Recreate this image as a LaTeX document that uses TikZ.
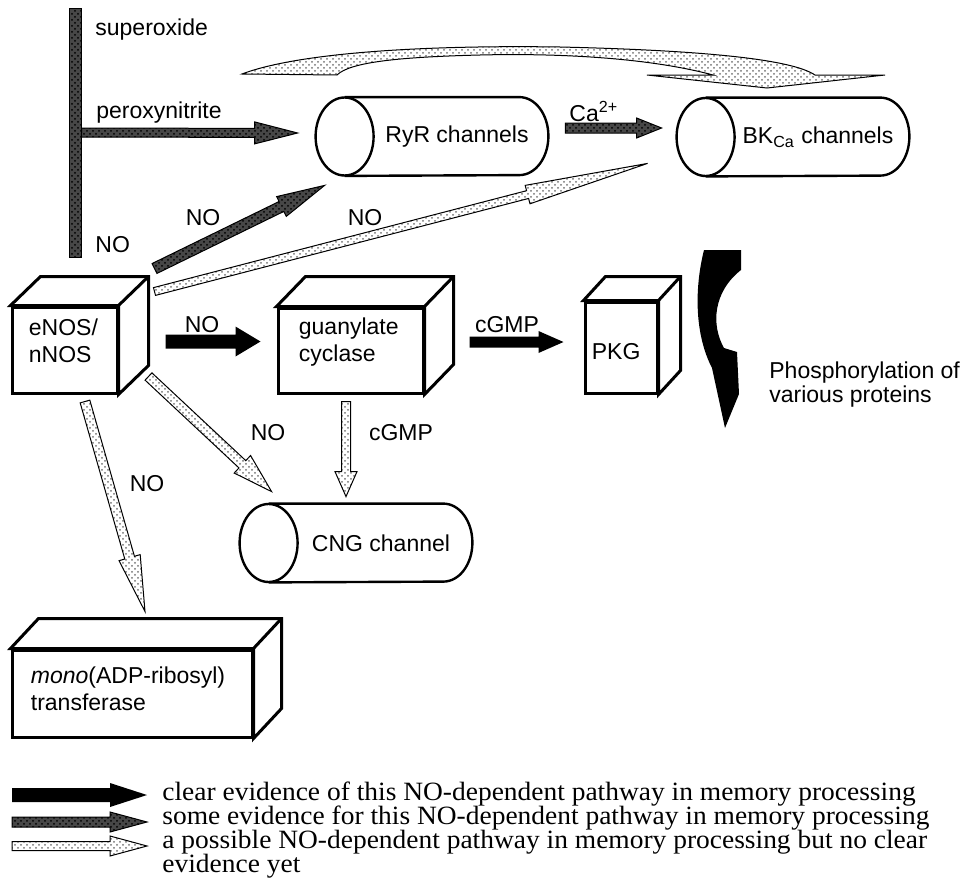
\documentclass[tikz,border=0pt]{standalone}
\usepackage{fontspec}
\setmainfont{Liberation Sans}
\newfontfamily\legendfont[FakeStretch=1.04]{Liberation Serif}
\usetikzlibrary{calc, patterns, positioning}

\tikzset{
  lab/.style={font=\fontsize{11.5}{13.5}\selectfont, inner sep=0pt, align=left},
  cube/.style={draw, line width=1.5pt, fill=white, inner sep=0pt},
  cubeline/.style={line width=1.5pt, line join=miter},
  chan/.style={inner sep=0pt, minimum width=116pt, minimum height=39pt},
  chanline/.style={line width=1.2pt},
  evclear/.style={fill=black},
  evsome/.style={draw=black, line width=0.5pt, preaction={fill=black!72}, pattern=crosshatch dots, pattern color=black},
  evmaybe/.style={draw=black, line width=0.5pt, pattern=crosshatch dots, pattern color=black!55},
  legtext/.style={font=\legendfont\fontsize{13.2}{12}\selectfont, inner sep=0pt, anchor=base west},
}

% fat arrow: style, from, to, shaft half width, head half width, head length
\newcommand{\fatarrow}[6][evclear]{%
  \path (#2) coordinate (fa-s) (#3) coordinate (fa-e);
  \path ($(fa-e)!#6!(fa-s)$) coordinate (fa-h);
  \path[#1] ($(fa-s)!#4!-90:(fa-e)$) -- ($(fa-h)!#4!-90:(fa-e)$) -- ($(fa-h)!#5!-90:(fa-e)$) -- (fa-e)
    -- ($(fa-h)!#5!90:(fa-e)$) -- ($(fa-h)!#4!90:(fa-e)$) -- ($(fa-s)!#4!90:(fa-e)$) -- cycle;
}
% box seen in perspective: name, centre, width, height, back offset, text offset, text
\newcommand{\cube}[7]{%
  \node[cube, minimum width=#3, minimum height=#4] (#1) at (#2) {};
  \draw[cubeline, fill=white] (#1.north west) -- ++(#5) -- ([shift={(#5)}]#1.north east)
    -- ([shift={(#5)}]#1.south east) -- (#1.south east) -- (#1.north east) -- cycle;
  \draw[cubeline] (#1.north east) -- ++(#5);
  \node[lab, anchor=north west] (#1-t) at ([shift={#6}]#1.north west) {#7};
}
% channel drawn as a lying cylinder
\newcommand{\chan}[3]{%
  \node[chan] (#1) at (#2) {};
  \draw[chanline] ([xshift=14.5pt]#1.north west) -- ([xshift=-14.5pt]#1.north east)
    arc[start angle=90, end angle=-90, x radius=14.5pt, y radius=19.5pt] -- ([xshift=14.5pt]#1.south west);
  \draw[chanline] ([xshift=14.5pt]#1.west) ellipse [x radius=14.5pt, y radius=19.5pt];
  \node[lab] (#1-t) at ([xshift=12.5pt]#1.center) {#3};
}

\begin{document}
\begin{tikzpicture}[x=0.5pt, y=-0.5pt]
  \useasboundingbox (0,0) rectangle (965,884);

  % boxes and channels
  \cube{enos}{64.5,350}{52.5pt}{43pt}{30,-29}{(9pt,-6.5pt)}{eNOS/\\nNOS}
  \cube{gc}{350.5,350.5}{72.5pt}{42.5pt}{29,-30}{(11pt,-5.5pt)}{guanylate\\cyclase}
  \cube{pkg}{621,347.5}{36pt}{45.5pt}{22,-24}{(4pt,-21.5pt)}{PKG}
  \cube{mono}{132,693.5}{120pt}{43.5pt}{28,-30}{(10pt,-9pt)}{\textit{mono}(ADP-ribosyl)\\transferase}
  \chan{ryr}{432,136.5}{RyR channels}
  \chan{bk}{793,137}{BK\textsubscript{Ca} channels}
  \chan{cng}{356,543}{CNG channel}

  % superoxide bar
  \node[evsome, minimum width=6pt, minimum height=124.5pt, inner sep=0pt] (bar) at (75,132.5) {};
  \node[lab, anchor=west] (sup) at (95,30) {superoxide};
  \node[lab, anchor=west] (perox) at (96,113) {peroxynitrite};
  \node[lab, anchor=west] (barno) at (95,245) {NO};

  % pathways
  \fatarrow[evsome]{bar.east}{[shift={(-18,-3.5)}]ryr.west}{2.25pt}{5.5pt}{21.5pt}
  \fatarrow[evsome]{[shift={(17,-8.5)}]ryr.east}{[shift={(-15,-9)}]bk.west}{2.5pt}{5pt}{12.5pt}
  \fatarrow[evsome]{[shift={(36,-37)}]enos.north east}{[shift={(9,9.5)}]ryr.south west}{2.75pt}{5.5pt}{24pt}
  \fatarrow[evmaybe]{[shift={(36,-14)}]enos.north east}{[shift={(-29,-13)}]bk.south west}{2pt}{4.75pt}{62pt}
  \fatarrow[evclear]{[shift={(47,-8.5)}]enos.east}{[shift={(-16,-9)}]gc.west}{3.5pt}{7.5pt}{12.5pt}
  \fatarrow[evclear]{[shift={(45,-8.5)}]gc.east}{[shift={(-20,-5.5)}]pkg.west}{2.75pt}{5.5pt}{12.5pt}
  \fatarrow[evmaybe]{[shift={(30,-18)}]enos.south east}{[shift={(32,-12)}]cng.north west}{2.5pt}{6pt}{20pt}
  \fatarrow[evmaybe]{[shift={(-4.5,7)}]gc.south}{[shift={(-10,-7)}]cng.north}{2.25pt}{5.5pt}{12.5pt}
  \fatarrow[evmaybe]{[shift={(20.5,7)}]enos.south}{[shift={(13,-37)}]mono.north}{2.5pt}{5.5pt}{28pt}

  % curved arrow over RyR onto BK
  \path[evmaybe] (242,74) .. controls (300,52) and (430,45) .. (560,47) .. controls (690,50) and (790,58) .. (815,75)
    -- (885,75) -- (767,88) -- (647,75) -- (713,75) .. controls (650,58) and (560,53) .. (480,55)
    .. controls (400,57) and (350,62) .. (337,75) -- cycle;
  % curved arrow after PKG
  \fill (704,250) .. controls (694,290) and (695,335) .. (712,368) -- (725,428) -- (739,394) -- (737,352)
    -- (724,348) .. controls (711,325) and (713,292) .. (741,270) -- (741,250) -- cycle;

  % labels
  \node[lab] (no1) at (203,218) {NO};
  \node[lab] (no2) at (365,218) {NO};
  \node[lab] (no3) at (202,325) {NO};
  \node[lab] (no4) at (268,433) {NO};
  \node[lab] (no5) at (147,484) {NO};
  \node[lab] (cgmp1) at (507,325) {cGMP};
  \node[lab] (cgmp2) at (401,433) {cGMP};
  \node[lab, anchor=base west] (ca) at (569,121) {Ca\textsuperscript{2+}};
  \node[lab, anchor=west, font=\fontsize{11.5}{12}\selectfont] (phos) at (769,385) {Phosphorylation of\\various proteins};

  % legend
  \node[legtext] (lg1) at (162,800) {clear evidence of this NO-dependent pathway in memory processing};
  \node[legtext, below=12pt of lg1.base west, anchor=base west] (lg2) {some evidence for this NO-dependent pathway in memory processing};
  \node[legtext, below=12pt of lg2.base west, anchor=base west] (lg3) {a possible NO-dependent pathway in memory processing but no clear};
  \node[legtext, below=12pt of lg3.base west, anchor=base west] (lg4) {evidence yet};
  \fatarrow[evclear]{[shift={(-150,-5)}]lg1.base west}{[shift={(-15,-5)}]lg1.base west}{3.5pt}{6pt}{18.5pt}
  \fatarrow[evsome]{[shift={(-150,-2)}]lg2.base west}{[shift={(-15,-2)}]lg2.base west}{2.5pt}{5pt}{18.5pt}
  \fatarrow[evmaybe]{[shift={(-150,-2)}]lg3.base west}{[shift={(-15,-2)}]lg3.base west}{2.25pt}{5pt}{18.5pt}
\end{tikzpicture}
\end{document}
